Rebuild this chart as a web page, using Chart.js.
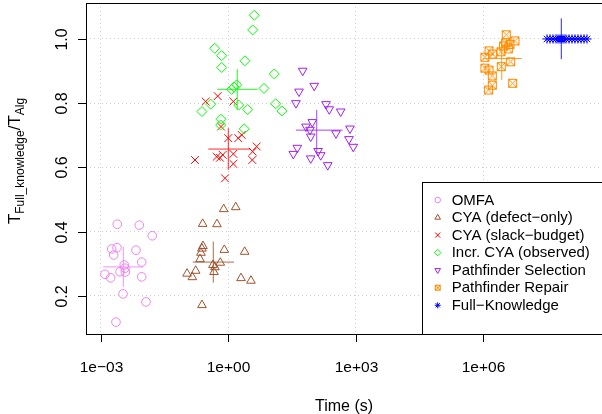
<!DOCTYPE html>
<html>
<head>
<meta charset="utf-8">
<script src="https://cdn.jsdelivr.net/npm/chart.js@4/dist/chart.umd.min.js"></script>
<style>
html,body{margin:0;padding:0;background:#fff;overflow:hidden;}
#wrap{position:relative;width:602px;height:414px;}
</style>
</head>
<body>
<div id="wrap"><canvas id="chart"></canvas></div>
<script>
/* ---------- data (time in s, ratio T_full / T_alg) ---------- */
const seriesNames = ['OMFA', 'CYA (defect\u2212only)', 'CYA (slack\u2212budget)', 'Incr. CYA (observed)',
  'Pathfinder Selection', 'Pathfinder Repair', 'Full\u2212Knowledge'];
const seriesColors = ['#EE82EE', '#A0522D', '#FF0000', '#00FF00', '#A020F0', '#FF8C00', '#0000FF'];

const omfaTime  = [0.00242, 0.00796, 0.0161, 0.00179, 0.00238, 0.00199, 0.00667, 0.00908, 0.00353, 0.00367,
  0.0028, 0.00373, 0.00124, 0.00169, 0.00908, 0.0033, 0.01145, 0.00225];
const omfaRatio = [0.423, 0.420, 0.387, 0.346, 0.350, 0.327, 0.342, 0.305, 0.296, 0.286,
  0.275, 0.274, 0.267, 0.256, 0.259, 0.206, 0.181, 0.118];

const cyaDefTime  = [0.771, 1.48, 0.247, 0.536, 0.251, 0.238, 0.225, 0.797, 2.40, 0.214,
  0.641, 0.432, 0.481, 0.169, 0.106, 0.456, 0.141, 1.97, 3.38, 0.238];
const cyaDefRatio = [0.470, 0.476, 0.424, 0.423, 0.355, 0.347, 0.334, 0.343, 0.337, 0.314,
  0.303, 0.296, 0.289, 0.278, 0.269, 0.274, 0.258, 0.255, 0.247, 0.171];

const cyaSlackTime  = [0.291, 0.557, 1.30, 0.667, 0.989, 1.70, 2.05, 4.61, 3.71, 1.30,
  0.731, 0.527, 0.631, 0.163, 3.63, 1.30, 0.828];
const cyaSlackRatio = [0.805, 0.822, 0.805, 0.727, 0.691, 0.691, 0.701, 0.665, 0.649, 0.642,
  0.639, 0.633, 0.630, 0.623, 0.623, 0.611, 0.566];

const incrTime  = [4.05, 3.71, 0.473, 0.692, 0.692, 2.44, 11.96, 1.56, 1.35, 1.19,
  6.84, 0.381, 0.238, 1.74, 2.83, 12.9, 18.1, 0.667, 0.655, 2.35];
const incrRatio = [1.074, 1.028, 0.971, 0.948, 0.911, 0.932, 0.891, 0.857, 0.850, 0.843,
  0.846, 0.797, 0.774, 0.794, 0.780, 0.798, 0.776, 0.750, 0.732, 0.720];

const pfSelTime  = [55.7, 104, 45.6, 38.7, 197, 235, 436, 93.7, 66.6, 82.7, 86,
  338, 722, 684, 864, 41.6, 33.5, 128, 148, 86, 216];
const pfSelRatio = [0.901, 0.854, 0.836, 0.800, 0.797, 0.781, 0.774, 0.741, 0.727, 0.717, 0.696,
  0.706, 0.721, 0.688, 0.664, 0.661, 0.642, 0.651, 0.638, 0.628, 0.607];

const pfRepTime  = [3.44e6, 5.51e6, 3.33e6, 4.2e6, 3.84e6, 2.58e6, 1.35e6, 1.64e6, 1.08e6,
  4.36e6, 2.62e6, 1.08e6, 1.35e6, 1.61e6, 4.86e6, 1.61e6, 1.32e6, 2.96e6];
const pfRepRatio = [1.013, 0.994, 0.988, 0.983, 0.969, 0.960, 0.963, 0.953, 0.943,
  0.929, 0.914, 0.909, 0.903, 0.885, 0.862, 0.856, 0.841, 0.978];

const fullTime  = [3.12e7, 3.67e7, 4.32e7, 5.08e7, 5.66e7, 6.31e7, 7.03e7, 7.84e7,
  8.73e7, 1.03e8, 1.21e8, 1.42e8, 1.67e8, 1.97e8, 2.32e8, 2.72e8];
const fullRatio = [1.0, 1.0, 1.0, 1.0, 1.0, 1.0, 1.0, 1.0,
  1.0, 1.0, 1.0, 1.0, 1.0, 1.0, 1.0, 1.0];

// centre / spread crosshair per series (same order as seriesNames)
const crossTime    = [0.00335, 0.439, 0.989, 1.61, 119, 2.68e6, 6.77e7];
const crossTimeLo  = [0.00113, 0.144, 0.335, 0.545, 38.7, 9.89e5, 4.8e7];
const crossTimeHi  = [0.00989, 1.35, 3.21, 4.86, 486, 7.92e6, 9.5e7];
const crossRatio   = [0.290, 0.305, 0.657, 0.843, 0.716, 0.939, 1.0];
const crossRatioLo = [0.228, 0.241, 0.592, 0.779, 0.646, 0.872, 0.937];
const crossRatioHi = [0.353, 0.369, 0.722, 0.906, 0.779, 0.997, 1.064];

const xTicks = [1e-3, 1, 1e3, 1e6];
const xTickLabels = ['1e\u221203', '1e+00', '1e+03', '1e+06'];
const yTicks = [0.2, 0.4, 0.6, 0.8, 1.0];
const yTickLabels = ['0.2', '0.4', '0.6', '0.8', '1.0'];
const xRange = [4.44e-4, 6.14e8];
const yRange = [0.081, 1.112];

const xTitle = 'Time (s)';

/* ---------- marker styles ---------- */
function boxedX(size, color){
  const c = document.createElement('canvas');
  c.width = c.height = size;
  const g = c.getContext('2d');
  g.strokeStyle = color; g.lineWidth = 1;
  const a = 1.5, b = size - 1.5;
  g.strokeRect(a, a, b - a, b - a);
  g.beginPath();
  g.moveTo(a, a); g.lineTo(b, b);
  g.moveTo(b, a); g.lineTo(a, b);
  g.stroke();
  return c;
}

const markers = [
  {pointStyle:'circle',   radius:4.3, rotation:0},
  {pointStyle:'triangle', radius:5,   rotation:0},
  {pointStyle:'crossRot', radius:5.5, rotation:0},
  {pointStyle:'rectRot',  radius:5,   rotation:0},
  {pointStyle:'triangle', radius:5,   rotation:180},
  {pointStyle:boxedX(11, seriesColors[5]), radius:5, rotation:0},
  {pointStyle:'star',     radius:4.6, rotation:0}
];
const legendMarkers = markers.map((m, i) => i === 5
  ? {pointStyle: boxedX(8, seriesColors[5]), radius: 3.5, rotation: 0}
  : {pointStyle: m.pointStyle, radius: m.radius * 0.65, rotation: m.rotation});

const seriesTime  = [omfaTime, cyaDefTime, cyaSlackTime, incrTime, pfSelTime, pfRepTime, fullTime];
const seriesRatio = [omfaRatio, cyaDefRatio, cyaSlackRatio, incrRatio, pfSelRatio, pfRepRatio, fullRatio];

function hexA(hex, a){
  const n = parseInt(hex.slice(1), 16);
  return `rgba(${n >> 16},${(n >> 8) & 255},${n & 255},${a})`;
}

const datasets = [];
seriesNames.forEach((name, i) => {
  datasets.push({
    label: name,
    data: seriesTime[i].map((t, k) => ({x: t, y: seriesRatio[i][k]})),
    pointStyle: markers[i].pointStyle,
    pointRadius: markers[i].radius,
    pointRotation: markers[i].rotation,
    pointBorderWidth: 1,
    borderColor: seriesColors[i],
    backgroundColor: 'rgba(0,0,0,0)',
    order: 20 - i
  });
});
seriesNames.forEach((name, i) => {
  datasets.push({
    label: name + ' spread',
    type: 'scatter',
    showLine: true,
    spanGaps: false,
    pointRadius: 0,
    borderWidth: 1,
    borderColor: hexA(seriesColors[i], 0.85),
    data: [
      {x: crossTimeLo[i], y: crossRatio[i]},
      {x: crossTimeHi[i], y: crossRatio[i]},
      {x: crossTime[i], y: null},
      {x: crossTime[i], y: crossRatioLo[i]},
      {x: crossTime[i], y: crossRatioHi[i]}
    ],
    order: 1
  });
});

/* ---------- R-style frame, ticks, labels, legend ---------- */
const FONT = '"Liberation Sans", Arial, Helvetica, sans-serif';

const rFrame = {
  id: 'rFrame',
  afterDraw(chart){
    const {ctx, chartArea: a, scales: {x, y}} = chart;
    ctx.save();
    ctx.strokeStyle = '#000'; ctx.lineWidth = 1;
    // box
    ctx.strokeRect(a.left + 0.5, a.top + 0.5, a.right - a.left, a.bottom - a.top);

    // x ticks + labels
    ctx.fillStyle = '#000';
    ctx.font = '15.5px ' + FONT;
    ctx.textAlign = 'center'; ctx.textBaseline = 'alphabetic';
    xTicks.forEach((v, i) => {
      const px = Math.round(x.getPixelForValue(v)) + 0.5;
      ctx.beginPath(); ctx.moveTo(px, a.bottom); ctx.lineTo(px, a.bottom + 8); ctx.stroke();
      ctx.fillText(xTickLabels[i], px, a.bottom + 37.5);
    });
    // y ticks + rotated labels
    ctx.font = '16px ' + FONT;
    yTicks.forEach((v, i) => {
      const py = Math.round(y.getPixelForValue(v)) + 0.5;
      ctx.beginPath(); ctx.moveTo(a.left - 8, py); ctx.lineTo(a.left, py); ctx.stroke();
      ctx.save();
      ctx.translate(a.left - 19, py);
      ctx.rotate(-Math.PI / 2);
      ctx.fillText(yTickLabels[i], 0, 0);
      ctx.restore();
    });

    // x title
    ctx.font = '16px ' + FONT;
    ctx.fillText(xTitle, (a.left + a.right) / 2, 410.5);

    // y title: T[Full_knowledge] / T[Alg]
    const parts = [
      {t: 'T', f: 17, dy: 0}, {t: 'Full_knowledge', f: 12, dy: 4},
      {t: '/', f: 17, dy: 0}, {t: 'T', f: 17, dy: 0}, {t: 'Alg', f: 12, dy: 4}
    ];
    let total = 0;
    parts.forEach(p => { ctx.font = p.f + 'px ' + FONT; p.w = ctx.measureText(p.t).width; total += p.w; });
    ctx.save();
    ctx.translate(19.5, 161);
    ctx.rotate(-Math.PI / 2);
    ctx.textAlign = 'left';
    let u = -total / 2;
    parts.forEach(p => {
      ctx.font = p.f + 'px ' + FONT;
      ctx.fillText(p.t, u, p.dy);
      u += p.w;
    });
    ctx.restore();

    // legend (bottom right, inside plot)
    const L = {left: 422, top: 182, right: a.right, bottom: a.bottom, row: 17.55, y0: 200, sx: 437.7, tx: 451.7};
    ctx.fillStyle = '#fff';
    ctx.fillRect(L.left, L.top, L.right - L.left, L.bottom - L.top);
    ctx.strokeStyle = '#000';
    ctx.strokeRect(L.left + 0.5, L.top + 0.5, L.right - L.left, L.bottom - L.top);
    ctx.font = '15px ' + FONT;
    ctx.textAlign = 'left'; ctx.textBaseline = 'middle';
    seriesNames.forEach((name, i) => {
      const yy = L.y0 + i * L.row;
      ctx.strokeStyle = seriesColors[i];
      ctx.fillStyle = 'rgba(0,0,0,0)';
      ctx.lineWidth = 1;
      Chart.helpers.drawPoint(ctx, {
        pointStyle: legendMarkers[i].pointStyle,
        radius: legendMarkers[i].radius,
        rotation: legendMarkers[i].rotation,
        borderWidth: 1
      }, L.sx, yy);
      ctx.fillStyle = '#000';
      ctx.fillText(name, L.tx, yy + 0.5);
    });
    ctx.restore();
  }
};

new Chart(document.getElementById('chart'), {
  type: 'scatter',
  data: {datasets},
  plugins: [rFrame],
  options: {
    responsive: true,
    maintainAspectRatio: false,
    devicePixelRatio: 1,
    animation: false,
    events: [],
    layout: {autoPadding: false, padding: {top: 3, right: 0, left: 0, bottom: 0}},
    plugins: {legend: {display: false}, tooltip: {enabled: false}},
    scales: {
      x: {
        type: 'logarithmic',
        min: xRange[0], max: xRange[1],
        afterBuildTicks: s => { s.ticks = xTicks.map(v => ({value: v})); },
        afterFit: s => { s.height = 80; },
        ticks: {display: false},
        grid: {color: '#CFCFCF', lineWidth: 1, drawTicks: false},
        border: {display: false, dash: [1, 3]}
      },
      y: {
        type: 'linear',
        min: yRange[0], max: yRange[1],
        afterBuildTicks: s => { s.ticks = yTicks.map(v => ({value: v})); },
        afterFit: s => { s.width = 86; },
        ticks: {display: false},
        grid: {color: '#CFCFCF', lineWidth: 1, drawTicks: false},
        border: {display: false, dash: [1, 3]}
      }
    }
  }
});
</script>
</body>
</html>
